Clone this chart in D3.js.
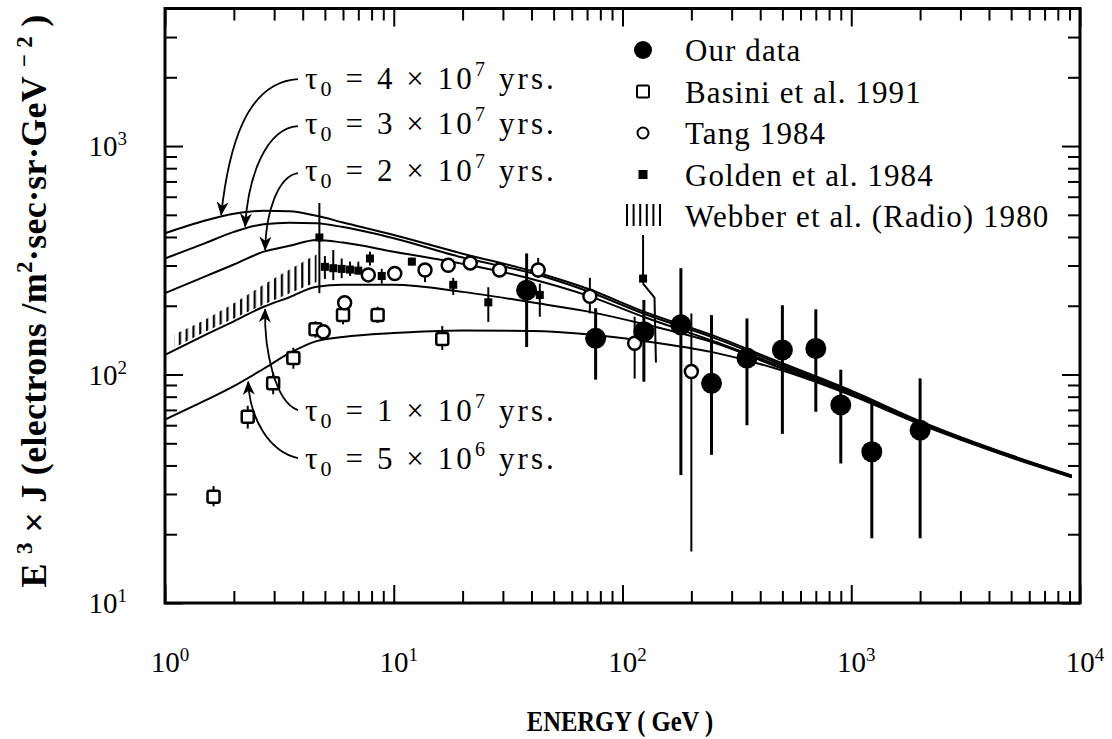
<!DOCTYPE html>
<html>
<head>
<meta charset="utf-8">
<script src="https://cdnjs.cloudflare.com/ajax/libs/d3/7.8.5/d3.min.js"></script>
<style>
  body { margin: 0; background: #fff; }
  svg { display: block; font-family: "Liberation Serif", "DejaVu Serif", serif; }
</style>
</head>
<body>
<svg id="chart" width="1112" height="739"></svg>
<script>
// ---- model curves (E^3 J vs energy), one per tau0 ----
var curveE = [1, 1.5, 2, 2.7, 3.5, 4.6, 6, 10, 20, 40, 70, 125, 250, 500, 1000, 2000, 5000, 9200];
var tau4e7 = [415, 472, 505, 521, 518, 495, 463, 408, 338, 284, 238, 188, 148, 112, 85, 62.5, 44.3, 36.2];
var tau3e7 = [322, 376, 421, 455, 462, 459, 442, 395, 325, 278, 232, 184, 145, 110, 84, 62, 44, 36];
var tau2e7 = [227, 269, 303, 345, 366, 388, 378, 345, 305, 262, 222, 178, 140, 108, 83, 61.5, 43.7, 35.8];
var tau1e7 = [122, 149, 171, 198, 218, 242, 247, 247, 230, 207, 189, 166, 138, 106, 82, 61, 43.5, 35.6];
var tau5e6 = [63.5, 77, 89, 106, 124, 140, 146, 152, 156, 155, 150, 140, 125, 104, 81, 60.5, 43.3, 35.5];

// ---- Webber et al. (Radio) 1980 band ----
var webberE = [1.1, 1.5, 2, 2.9, 4.6];
var webberLow = [131, 154, 176, 209, 254];
var webberHigh = [150, 174, 205, 258, 335];

// ---- Our data ----
var ourE = [38.1, 76.3, 124, 180, 245, 350, 500, 700, 900, 1230, 2000];
var ourV = [234, 144, 154, 165, 91.5, 118, 128, 130, 73.6, 45.9, 57.1];
var ourLo = [132, 95, 93, 36.3, 44.5, 60, 55, 68.7, 40.8, 19.2, 19.2];
var ourHi = [339, 195, 212, 292, 182, 176, 201, 193, 105, 74.8, 96.2];

// ---- Basini et al. 1991 ----
var basiniE = [1.63, 2.30, 2.97, 3.64, 4.55, 6.0, 8.5, 16.3];
var basiniV = [29.2, 65.3, 91.5, 118, 158, 182, 182, 143];
var basiniLo = [26.5, 58, 82, 106, 145, 166, 168, 128];
var basiniHi = [32.5, 73, 102, 131, 171, 200, 198, 163];

// ---- Tang 1984 ----
var tangE = [4.92, 6.1, 7.74, 10.1, 13.7, 17.3, 21.6, 29, 42.8, 72, 113, 200];
var tangV = [154, 206, 273, 277, 287, 301, 308, 287, 287, 220, 137, 103];
var tangLo = [146, 190, 262, 268, 254, 284, 296, 276, 265, 185, 96, 16.8];
var tangHi = [162, 222, 286, 287, 305, 320, 325, 300, 324, 265, 179, 185];

// ---- Golden et al. 1984 ----
var goldenE = [4.73, 5.0, 5.44, 5.92, 6.44, 7.0, 7.87, 8.86, 12, 18.2, 25.9, 43.5, 123];
var goldenV = [398, 296, 292, 290, 288, 285, 322, 270, 312, 247, 207, 223, 263];
var goldenLo = [227, 262, 259, 264, 270, 274, 300, 250, 300, 223, 170, 179, 250];
var goldenHi = [563, 330, 351, 322, 312, 312, 345, 290, 325, 265, 241, 250, 408];
var goldenKink = [[123, 250], [138, 217], [140, 113]];

// ---- labels ----
var xMajor = [1, 10, 100, 1000, 10000];
var yMajor = [10, 100, 1000];
var xExp = ["0", "1", "2", "3", "4"];
var yExp = ["1", "2", "3"];
var legendLabels = ["Our data", "Basini et al. 1991", "Tang 1984", "Golden et al. 1984", "Webber et al. (Radio) 1980"];
var tauMant = ["4", "3", "2", "1", "5"];
var tauExp = ["7", "7", "7", "7", "6"];

// annotation layout (data coords): text baseline start, arrow start / controls / tip
var tauText = [[4.09, 1777], [4.09, 1128], [4.09, 703], [4.09, 62.6], [4.09, 38.6]];
var tauArrow = [
  [[3.81, 1964], [2.24, 1906], [1.89, 960], [1.76, 500]],
  [[3.81, 1223], [2.78, 1199], [2.31, 747], [2.24, 445]],
  [[3.81, 762], [3.12, 739], [2.76, 514], [2.74, 352]],
  [[3.81, 69.9], [3.03, 75.8], [2.71, 128], [2.74, 193]],
  [[3.81, 43.1], [2.88, 45.8], [2.35, 63.2], [2.31, 93]]
];

var svg = d3.select("#chart");
var x = d3.scaleLog().domain([1, 1e4]).range([165, 1080]);
var y = d3.scaleLog().domain([10, 4000]).range([603, 8.5]);

var defs = svg.append("defs");
defs.append("pattern").attr("id", "hatch").attr("patternUnits", "userSpaceOnUse")
  .attr("width", 6.8).attr("height", 40)
  .append("rect").attr("x", 2).attr("y", 0).attr("width", 2.2).attr("height", 40).attr("fill", "#000");
defs.append("marker").attr("id", "arrow").attr("viewBox", "0 0 14 12")
  .attr("refX", 13).attr("refY", 6).attr("markerWidth", 15).attr("markerHeight", 12)
  .attr("markerUnits", "userSpaceOnUse").attr("orient", "auto")
  .append("path").attr("d", "M0,0 L14,6 L0,12 L4,6 Z").attr("fill", "#000");

// rich text helper: parts = [[text, shift, size]]
function rich(sel, parts, baseSize) {
  var cur = 0;
  parts.forEach(function(p) {
    var shift = p[1] || 0;
    sel.append("tspan").attr("dy", shift - cur)
      .attr("font-size", p[2] || baseSize).text(p[0]);
    cur = shift;
  });
}

// webber band
var band = webberE.map(function(e, i) { return {E: e, lo: webberLow[i], hi: webberHigh[i]}; });
svg.append("path").datum(band)
  .attr("d", d3.area().x(function(d) { return x(d.E); })
    .y0(function(d) { return y(d.lo); }).y1(function(d) { return y(d.hi); })
    .curve(d3.curveMonotoneX))
  .attr("fill", "url(#hatch)");

// model curves
var line = d3.line().x(function(d) { return x(d[0]); }).y(function(d) { return y(d[1]); })
  .curve(d3.curveMonotoneX);
[tau4e7, tau3e7, tau2e7, tau1e7, tau5e6].forEach(function(vals) {
  svg.append("path").datum(curveE.map(function(e, i) { return [e, vals[i]]; }))
    .attr("d", line).attr("fill", "none").attr("stroke", "#000").attr("stroke-width", 2);
});

// error bars
function errbars(E, lo, hi, w) {
  svg.append("g").selectAll("line").data(E).join("line")
    .attr("x1", function(d) { return x(d); }).attr("x2", function(d) { return x(d); })
    .attr("y1", function(d, i) { return y(lo[i]); }).attr("y2", function(d, i) { return y(hi[i]); })
    .attr("stroke", "#000").attr("stroke-width", w);
}
errbars(basiniE, basiniLo, basiniHi, 2);
errbars(tangE, tangLo, tangHi, 2);
errbars(goldenE, goldenLo, goldenHi, 2);
errbars(ourE, ourLo, ourHi, 3);
svg.append("path").datum(goldenKink).attr("d", d3.line().x(function(d) { return x(d[0]); }).y(function(d) { return y(d[1]); }))
  .attr("fill", "none").attr("stroke", "#000").attr("stroke-width", 2);

// markers
svg.append("g").selectAll("rect").data(basiniE).join("rect")
  .attr("x", function(d) { return x(d) - 6; }).attr("y", function(d, i) { return y(basiniV[i]) - 6; })
  .attr("width", 12).attr("height", 12).attr("rx", 2)
  .attr("fill", "#fff").attr("stroke", "#000").attr("stroke-width", 2.5);
svg.append("g").selectAll("rect").data(goldenE).join("rect")
  .attr("x", function(d) { return x(d) - 4; }).attr("y", function(d, i) { return y(goldenV[i]) - 4; })
  .attr("width", 8).attr("height", 8).attr("fill", "#000");
svg.append("g").selectAll("circle").data(tangE).join("circle")
  .attr("cx", function(d) { return x(d); }).attr("cy", function(d, i) { return y(tangV[i]); })
  .attr("r", 6.5).attr("fill", "#fff").attr("stroke", "#000").attr("stroke-width", 2.5);
svg.append("g").selectAll("circle").data(ourE).join("circle")
  .attr("cx", function(d) { return x(d); }).attr("cy", function(d, i) { return y(ourV[i]); })
  .attr("r", 10.5).attr("fill", "#000");

// axes: ticks on all four sides, pointing inward
var xMinor = x.ticks().filter(function(t) { return xMajor.indexOf(t) < 0; });
var yMinor = y.ticks().filter(function(t) { return yMajor.indexOf(t) < 0 && t < 4000; });
function ticks(axisFn, scale, values, size, tr) {
  svg.append("g").attr("transform", tr)
    .call(axisFn(scale).tickValues(values).tickSize(size).tickFormat(""))
    .call(function(g) { g.select(".domain").remove(); })
    .call(function(g) { g.selectAll("line").attr("stroke", "#000").attr("stroke-width", 2); });
}
ticks(d3.axisBottom, x, xMajor, -18, "translate(0,603)");
ticks(d3.axisBottom, x, xMinor, -12, "translate(0,603)");
ticks(d3.axisTop, x, xMajor, -18, "translate(0,8.5)");
ticks(d3.axisTop, x, xMinor, -12, "translate(0,8.5)");
ticks(d3.axisLeft, y, yMajor, -18, "translate(165,0)");
ticks(d3.axisLeft, y, yMinor, -12, "translate(165,0)");
ticks(d3.axisRight, y, yMajor, -18, "translate(1080,0)");
ticks(d3.axisRight, y, yMinor, -12, "translate(1080,0)");

svg.append("rect").attr("x", 165).attr("y", 8.5).attr("width", 915).attr("height", 594.5)
  .attr("fill", "none").attr("stroke", "#000").attr("stroke-width", 3);

// tick labels
xMajor.forEach(function(t, i) {
  var tx = svg.append("text").attr("x", x(t) + 5).attr("y", 672).attr("text-anchor", "middle")
    .attr("font-size", 29);
  rich(tx, [["10", 0], [xExp[i], -11, 19]], 29);
});
yMajor.forEach(function(t, i) {
  var tx = svg.append("text").attr("x", 127).attr("y", y(t) + 10).attr("text-anchor", "end")
    .attr("font-size", 29);
  rich(tx, [["10", 0], [yExp[i], -11, 19]], 29);
});

// axis titles
svg.append("text").attr("transform", "translate(620,731) scale(0.82,1)").attr("text-anchor", "middle")
  .attr("font-size", 30).attr("font-weight", "bold").text("ENERGY ( GeV )");
var yl = svg.append("text").attr("transform", "translate(46,301) rotate(-90)")
  .attr("text-anchor", "middle").attr("font-size", 36).attr("font-weight", "bold")
  .attr("letter-spacing", 0.3);
rich(yl, [["E ", 0], ["3", -14, 23], [" × J (electrons /m", 0], ["2", -14, 23],
  ["·sec·sr·GeV ", 0], ["− 2", -14, 23], [" )", 0]], 36);

// tau annotations
tauMant.forEach(function(m, i) {
  var t = svg.append("text").attr("x", x(tauText[i][0])).attr("y", y(tauText[i][1]))
    .attr("font-size", 31).attr("letter-spacing", 3.1);
  rich(t, [["τ", 0], ["0", 7, 22], [" = " + m + " × 10", 0], [tauExp[i], -13, 20], [" yrs.", 0]], 31);
  var a = tauArrow[i], p = d3.path();
  p.moveTo(x(a[0][0]), y(a[0][1]));
  p.bezierCurveTo(x(a[1][0]), y(a[1][1]), x(a[2][0]), y(a[2][1]), x(a[3][0]), y(a[3][1]));
  svg.append("path").attr("d", p.toString()).attr("fill", "none").attr("stroke", "#000")
    .attr("stroke-width", 1.8).attr("marker-end", "url(#arrow)");
});

// legend
var legend = svg.append("g");
legendLabels.forEach(function(lbl, i) {
  var cy = 50 + i * 41.5;
  legend.append("text").attr("x", 685).attr("y", cy + 11).attr("font-size", 31)
    .attr("letter-spacing", 1.1).text(lbl);
});
legend.append("circle").attr("cx", 643).attr("cy", 50).attr("r", 9).attr("fill", "#000");
legend.append("rect").attr("x", 637).attr("y", 85.5).attr("width", 12).attr("height", 12).attr("rx", 1.5)
  .attr("fill", "#fff").attr("stroke", "#000").attr("stroke-width", 2);
legend.append("circle").attr("cx", 643).attr("cy", 133).attr("r", 5.5)
  .attr("fill", "#fff").attr("stroke", "#000").attr("stroke-width", 2);
legend.append("rect").attr("x", 638.5).attr("y", 170).attr("width", 9).attr("height", 9).attr("fill", "#000");
legend.append("g").selectAll("line").data(d3.range(6)).join("line")
  .attr("x1", function(d) { return 627 + d * 6.6; }).attr("x2", function(d) { return 627 + d * 6.6; })
  .attr("y1", 204).attr("y2", 226).attr("stroke", "#000").attr("stroke-width", 2);
</script>
</body>
</html>
